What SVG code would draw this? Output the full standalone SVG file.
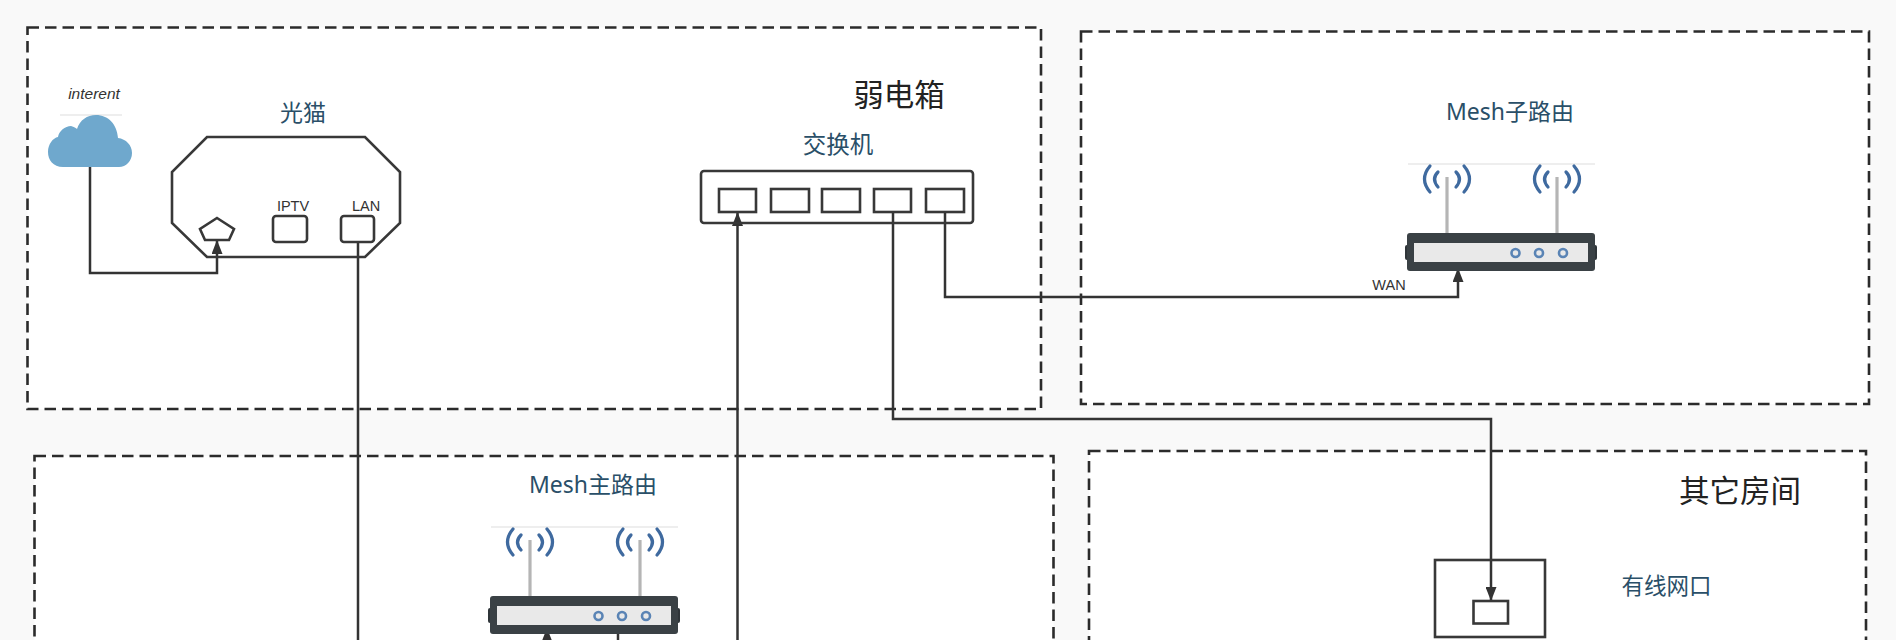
<svg xmlns="http://www.w3.org/2000/svg" width="1896" height="640" viewBox="0 0 1896 640">
<style>
text{font-family:"Noto Sans","Noto Sans CJK SC",sans-serif}
.zone{fill:#fff;stroke:#2b2b2b;stroke-width:2.6;stroke-dasharray:11.5 6}
.dev{fill:none;stroke:#383838;stroke-width:2.6}
.conn{fill:none;stroke:#333;stroke-width:2.5}
.lab{fill:#2a4f68;font-size:23px;text-anchor:middle}
.title{fill:#222;font-size:30.5px;text-anchor:middle}
.small{fill:#333;font-size:14.5px;text-anchor:middle;font-family:"Liberation Sans",sans-serif}
.rule{stroke:#ddd;stroke-width:1}
.ant{stroke:#b5b5b5;stroke-width:3.2}
.arc{fill:none;stroke:#3f6a9f;stroke-width:3.2;stroke-linecap:round}
.led{fill:none;stroke:#5a84b5;stroke-width:2.6}
</style>
<defs>
<marker id="head" markerUnits="userSpaceOnUse" markerWidth="14" markerHeight="11" refX="14" refY="5.5" orient="auto" viewBox="0 0 14 11"><path d="M0 0L14 5.5L0 11Z" fill="#333"/></marker>
<g id="router">
<line class="rule" x1="1408" y1="164" x2="1595" y2="164"/>
<line class="ant" x1="1447" y1="177" x2="1447" y2="234"/>
<line class="ant" x1="1557" y1="177" x2="1557" y2="234"/>
<path class="arc" d="M1430 166Q1419 179 1430 192M1438 172Q1431 179 1438 187M1456 172Q1463 179 1456 187M1464 166Q1475 179 1464 192"/>
<path class="arc" d="M1540 166Q1529 179 1540 192M1548 172Q1541 179 1548 187M1566 172Q1573 179 1566 187M1574 166Q1585 179 1574 192"/>
<rect x="1405" y="245" width="192" height="15" rx="2" fill="#2f3539"/>
<rect x="1407" y="233" width="188" height="38" rx="3" fill="#3a4145"/>
<rect x="1414" y="243" width="174" height="19" fill="#e9e9e9"/>
<circle class="led" cx="1515.5" cy="253" r="4"/>
<circle class="led" cx="1539" cy="253" r="4"/>
<circle class="led" cx="1563" cy="253" r="4"/>
</g>
</defs>
<rect width="1896" height="640" fill="#f9f9f9"/>
<g id="zones">
<rect class="zone" x="27.5" y="27.5" width="1013.5" height="381.5"/>
<rect class="zone" x="1081" y="31.5" width="788" height="372.5"/>
<rect class="zone" x="34.5" y="456" width="1019" height="200"/>
<rect class="zone" x="1089" y="451" width="777" height="205"/>
</g>
<g id="connectors">
<path class="conn" d="M90 167V273H217V240" marker-end="url(#head)"/>
<path class="conn" d="M358 242V640"/>
<path class="conn" d="M737.5 640V212" marker-end="url(#head)"/>
<path class="conn" d="M893 212V419H1491V601" marker-end="url(#head)"/>
<path class="conn" d="M945 212V297H1458V268" marker-end="url(#head)"/>
<path class="conn" d="M547 640V628" marker-end="url(#head)"/>
<path class="conn" d="M618 633V640"/>
</g>
<g id="cloud">
<text x="94" y="99" class="small" style="font-style:italic;font-size:15.5px">interent</text>
<line class="rule" x1="60" y1="115" x2="122" y2="115"/>
<path d="M63 167C53 167 48 160 48 152C48 144 53 138 58 137C59 131 65 126 71 126C74 127 76 128 77 129C80 120 87 115 96 115C108 115 117 124 118 138C126 139 132 145 132 153C132 161 126 167 119 167Z" fill="#6fa8cd"/>
</g>
<g id="modem">
<text x="303" y="121" class="lab">光猫</text>
<polygon class="dev" points="207,137 365,137 400,172 400,223 365,257 207,257 172,223 172,172"/>
<polygon class="dev" points="217,218 234,229 229,240 205,240 200,229"/>
<rect class="dev" x="273" y="216" width="34" height="26" rx="3"/>
<rect class="dev" x="341" y="216" width="33" height="26" rx="3"/>
<text x="293" y="211" class="small">IPTV</text>
<text x="366" y="211" class="small">LAN</text>
</g>
<g id="switch">
<text x="838" y="153" class="lab" style="font-size:23.5px">交换机</text>
<rect class="dev" x="701" y="171" width="272" height="52" rx="3"/>
<rect class="dev" x="719" y="189" width="37" height="23"/>
<rect class="dev" x="771" y="189" width="38" height="23"/>
<rect class="dev" x="822" y="189" width="38" height="23"/>
<rect class="dev" x="874" y="189" width="37" height="23"/>
<rect class="dev" x="926" y="189" width="38" height="23"/>
</g>
<g id="box-title"><text x="899" y="106" class="title">弱电箱</text></g>
<g id="mesh-sub">
<text x="1510" y="120" class="lab">Mesh子路由</text>
<use href="#router"/>
<text x="1389" y="290" class="small">WAN</text>
</g>
<g id="mesh-main">
<text x="593" y="493" class="lab">Mesh主路由</text>
<use href="#router" x="-917" y="363"/>
</g>
<g id="room-title"><text x="1740" y="502" class="title">其它房间</text></g>
<g id="wall-port">
<rect class="dev" x="1435" y="560" width="110" height="77"/>
<rect class="dev" x="1473.5" y="601" width="34.5" height="22.5"/>
<text x="1666.5" y="594" class="lab" style="font-size:22.5px">有线网口</text>
</g>
</svg>
